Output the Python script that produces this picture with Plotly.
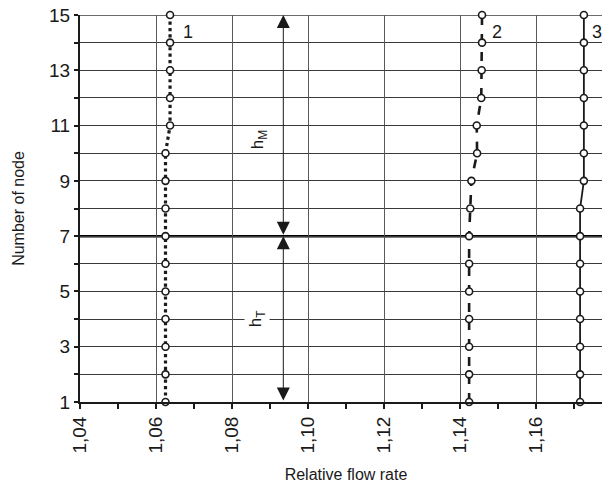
import plotly.graph_objects as go

nodes = list(range(1, 16))
series1 = [1.0625, 1.0625, 1.0625, 1.0625, 1.0625, 1.0625, 1.0625, 1.0625, 1.0625, 1.0625,
           1.0637, 1.0637, 1.0637, 1.0637, 1.0637]
series2 = [1.1424, 1.1424, 1.1424, 1.1424, 1.1424, 1.1424, 1.1424, 1.1427, 1.1430, 1.1445,
           1.1444, 1.1456, 1.1457, 1.1458, 1.1458]
series3 = [1.1716, 1.1716, 1.1716, 1.1716, 1.1716, 1.1716, 1.1716, 1.1716, 1.1726, 1.1726,
           1.1726, 1.1726, 1.1726, 1.1726, 1.1726]
series_names = ["1", "2", "3"]
label_x = [1.0684, 1.1498, 1.1761]
label_y = 14.38

ytick_vals = [1, 3, 5, 7, 9, 11, 13, 15]
ytick_text = ["1", "3", "5", "7", "9", "11", "13", "15"]
xtick_vals = [1.04, 1.06, 1.08, 1.10, 1.12, 1.14, 1.16, 1.18]

split_node = 7
arrow_x = 1.0935
hM_label = dict(x=1.0873, y=10.5, text="h<sub>M</sub>")
hT_label = dict(x=1.0866, y=4.0, text="h<sub>T</sub>")

FONT = "Liberation Sans, Arial, sans-serif"
INK = "#1a1a1a"

fig = go.Figure()

fig.add_shape(type="line", xref="paper", yref="y", x0=0, x1=1, y0=nodes[-1], y1=nodes[-1],
              line=dict(color="#3a3a3a", width=1.5), layer="below")
fig.add_shape(type="line", xref="paper", yref="y", x0=0, x1=1, y0=split_node, y1=split_node,
              line=dict(color="black", width=2.5), layer="below")

styles = [dict(dash="dot", width=3.2), dict(dash="dash", width=2.6), dict(dash="solid", width=1.8)]
for xs, st, nm in zip([series1, series2, series3], styles, series_names):
    fig.add_trace(go.Scatter(
        x=xs, y=nodes, mode="lines+markers", name=nm,
        line=dict(color=INK, width=st["width"], dash=st["dash"]),
        marker=dict(symbol="circle", size=7, color="white", line=dict(color=INK, width=1.6)),
        cliponaxis=False, showlegend=False,
    ))

for nm, lx in zip(series_names, label_x):
    fig.add_annotation(x=lx, y=label_y, text=nm, showarrow=False,
                       font=dict(family=FONT, size=18, color=INK))

# dimension arrows
for (y0, y1) in [(nodes[-1], split_node), (split_node, nodes[0])]:
    fig.add_annotation(x=arrow_x, y=y0, ax=arrow_x, ay=y1, axref="x", ayref="y",
                       xref="x", yref="y", text="", showarrow=True,
                       arrowside="end+start", arrowhead=2, arrowsize=2.6,
                       arrowwidth=1, arrowcolor=INK)

for lab in [hM_label, hT_label]:
    fig.add_annotation(x=lab["x"], y=lab["y"], text=lab["text"], showarrow=False,
                       textangle=-90, bgcolor="white", borderpad=1,
                       font=dict(family=FONT, size=17, color=INK))

fig.update_layout(
    width=604, height=478,
    margin=dict(l=72, r=0, t=7, b=84),
    plot_bgcolor="white", paper_bgcolor="white",
    separators=", ",
    font=dict(family=FONT, size=16, color=INK),
    xaxis=dict(
        range=[1.04, 1.18], tickvals=xtick_vals, tickformat=".2f", tickangle=-90,
        ticklabeloverflow="allow",
        showgrid=True, gridcolor="#5a5a5a", gridwidth=1,
        showline=True, linecolor=INK, linewidth=2,
        ticks="outside", ticklen=5, tickwidth=1.5, tickcolor=INK,
        minor=dict(dtick=0.01, ticks="outside", ticklen=5, tickwidth=1.5, tickcolor=INK, showgrid=False),
        tickfont=dict(size=19),
        title=dict(text="Relative flow rate", font=dict(size=16), standoff=16),
        zeroline=False, automargin=False,
    ),
    yaxis=dict(
        range=[1, 15], tickvals=ytick_vals, ticktext=ytick_text,
        ticklabeloverflow="allow",
        showgrid=True, gridcolor="#3a3a3a", gridwidth=1,
        showline=True, linecolor=INK, linewidth=2,
        ticks="outside", ticklen=4, tickwidth=1.5, tickcolor=INK,
        minor=dict(dtick=1, tick0=1, ticks="outside", ticklen=4, tickwidth=1.5, tickcolor=INK,
                   showgrid=True, gridcolor="#3a3a3a", gridwidth=1),
        tickfont=dict(size=19),
        title=dict(text="Number of node", font=dict(size=16), standoff=20),
        zeroline=False, automargin=False,
    ),
)

fig.write_html("out.html")
